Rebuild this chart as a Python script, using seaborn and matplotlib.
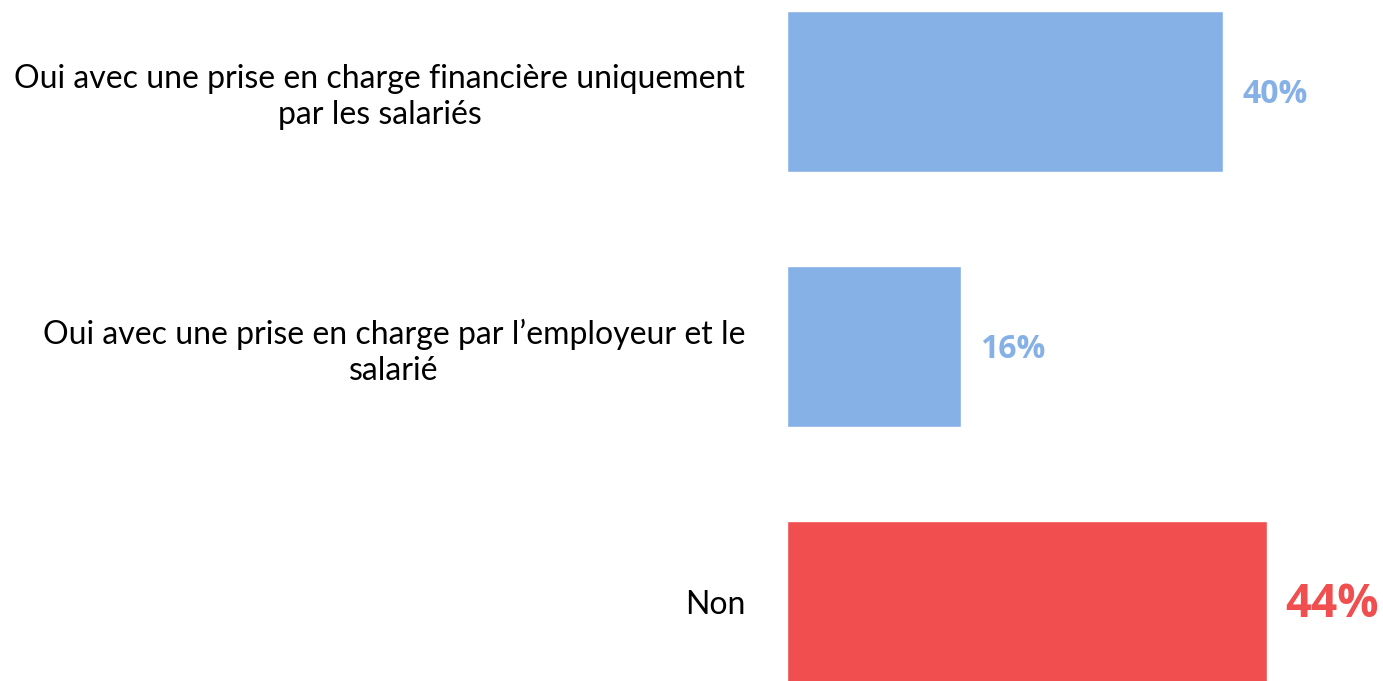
import matplotlib
matplotlib.use('Agg')
import matplotlib.pyplot as plt
import seaborn as sns
import pandas as pd

categories = ["Oui avec une prise en charge financière uniquement\npar les salariés",
              "Oui avec une prise en charge par l\u2019employeur et le\nsalarié",
              "Non"]
values = [40, 16, 44]
labels = ["40%", "16%", "44%"]
colors = ["#85B1E7", "#85B1E7", "#F04E4F"]

sns.set_style('white')
plt.rcParams['font.family'] = ['Lato', 'DejaVu Sans']

df = pd.DataFrame({'cat': categories, 'val': values})

fig = plt.figure(figsize=(13.83, 6.81), dpi=100)
ax = fig.add_axes([787 / 1383, 0, 1 - 787 / 1383, 1])
sns.barplot(data=df, x='val', y='cat', hue='cat', palette=colors,
            width=161 / 255, legend=False, ax=ax, saturation=1)

ax.set_xlim(0, 596 / 10.9)
ax.set_ylim((681 - 91.5) / 255, -91.5 / 255)

for i, (v, lab) in enumerate(zip(values, labels)):
    big = i == 2
    ax.text(v + 1.75, i + 0.012, lab, color=colors[i], fontweight='bold',
            family=['Open Sans', 'DejaVu Sans'],
            fontsize=33 if big else 23, va='center', ha='left')

ax.set_xlabel('')
ax.set_ylabel('')
ax.set_xticks([])
ax.tick_params(axis='y', length=0, pad=30)
for t in ax.get_yticklabels():
    t.set_fontsize(23)
    t.set_color('black')
    t.set_linespacing(1.25)
    t.set_multialignment('center')
sns.despine(ax=ax, left=True, bottom=True)

fig.savefig('out.png', dpi=100)
